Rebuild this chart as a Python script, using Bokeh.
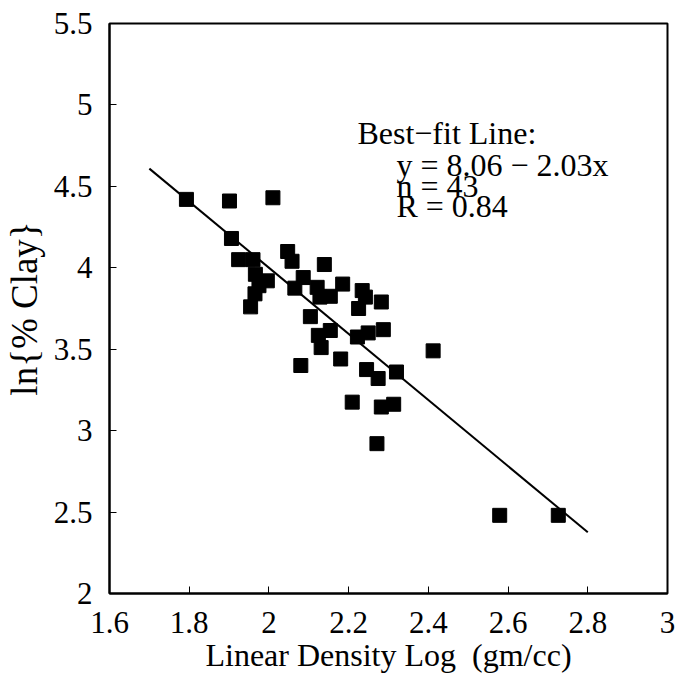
from bokeh.plotting import figure
from bokeh.models import Label, FixedTicker, Range1d
from bokeh.embed import file_html
from bokeh.resources import INLINE

# Data
density = [1.793, 1.901, 2.010, 1.906, 1.924, 1.960, 1.966, 1.996, 1.975, 1.965,
           1.954, 2.047, 2.058, 2.139, 2.086, 2.065, 2.121, 2.185, 2.128, 2.154,
           2.234, 2.242, 2.225, 2.282, 2.104, 2.124, 2.154, 2.131, 2.222, 2.249,
           2.287, 2.412, 2.080, 2.180, 2.245, 2.274, 2.320, 2.209, 2.282, 2.313,
           2.271, 2.579, 2.726]
ln_clay = [4.42, 4.41, 4.43, 4.18, 4.05, 4.05, 3.96, 3.92, 3.89, 3.84,
           3.76, 4.10, 4.04, 4.02, 3.94, 3.875, 3.88, 3.90, 3.82, 3.825,
           3.86, 3.82, 3.75, 3.79, 3.70, 3.585, 3.615, 3.51, 3.575, 3.60,
           3.62, 3.49, 3.40, 3.44, 3.375, 3.32, 3.36, 3.175, 3.145, 3.162,
           2.92, 2.48, 2.48]

fit_intercept = 8.06
fit_slope = -2.03
fit_x = [1.7, 2.8]
fit_y = [fit_intercept + fit_slope * x for x in fit_x]

x_ticks = [1.6, 1.8, 2.0, 2.2, 2.4, 2.6, 2.8, 3.0]
y_ticks = [2.0, 2.5, 3.0, 3.5, 4.0, 4.5, 5.0, 5.5]
x_tick_labels = ["1.6", "1.8", "2", "2.2", "2.4", "2.6", "2.8", "3"]
y_tick_labels = ["2", "2.5", "3", "3.5", "4", "4.5", "5", "5.5"]

annotation_lines = ["Best\u2212fit Line:", "y = 8.06 \u2212 2.03x", "n = 43", "R = 0.84"]

FONT = "Liberation Serif"

p = figure(width=687, height=677, output_backend="svg", toolbar_location=None,
           x_range=Range1d(1.6, 3.0), y_range=Range1d(2.0, 5.5),
           min_border_left=109, min_border_right=20, min_border_top=23,
           min_border_bottom=84)
p.background_fill_color = "white"
p.border_fill_color = "white"
p.grid.visible = False
p.outline_line_color = "black"
p.outline_line_width = 2

p.xaxis.ticker = FixedTicker(ticks=x_ticks)
p.yaxis.ticker = FixedTicker(ticks=y_ticks)
p.xaxis.major_label_overrides = {t: l for t, l in zip(x_ticks, x_tick_labels)}
p.yaxis.major_label_overrides = {t: l for t, l in zip(y_ticks, y_tick_labels)}

for ax in (p.xaxis, p.yaxis):
    ax.axis_line_color = "black"
    ax.axis_line_width = 2
    ax.major_tick_in = 7
    ax.major_tick_out = 0
    ax.major_tick_line_color = "black"
    ax.major_tick_line_width = 1
    ax.minor_tick_line_color = None
    ax.major_label_text_font = FONT
    ax.major_label_text_font_size = "31px"
    ax.major_label_text_color = "black"
    ax.axis_label_text_font = FONT
    ax.axis_label_text_font_style = "normal"
    ax.axis_label_text_color = "black"

p.xaxis.axis_label_text_font_size = "32px"
p.yaxis.axis_label_text_font_size = "37px"
p.xaxis.axis_label = "Linear Density Log\u00a0\u00a0(gm/cc)"
p.yaxis.axis_label = "ln{% Clay}"
p.xaxis.major_label_standoff = 18
p.yaxis.major_label_standoff = 17
p.xaxis.axis_label_standoff = 1
p.yaxis.axis_label_standoff = 6

p.line(fit_x, fit_y, line_color="black", line_width=2)
p.scatter(density, ln_clay, marker="square", size=14, fill_color="black",
          line_color="black")

ann_x = [2.222, 2.32, 2.32, 2.32]
ann_y = [4.83, 4.63, 4.505, 4.38]
for t, ax_, ay_ in zip(annotation_lines, ann_x, ann_y):
    p.add_layout(Label(x=ax_, y=ay_, text=t, text_font=FONT, text_font_size="32px",
                       text_color="black", text_baseline="middle", text_align="left"))

open("out.html", "w").write(file_html(p, INLINE))
